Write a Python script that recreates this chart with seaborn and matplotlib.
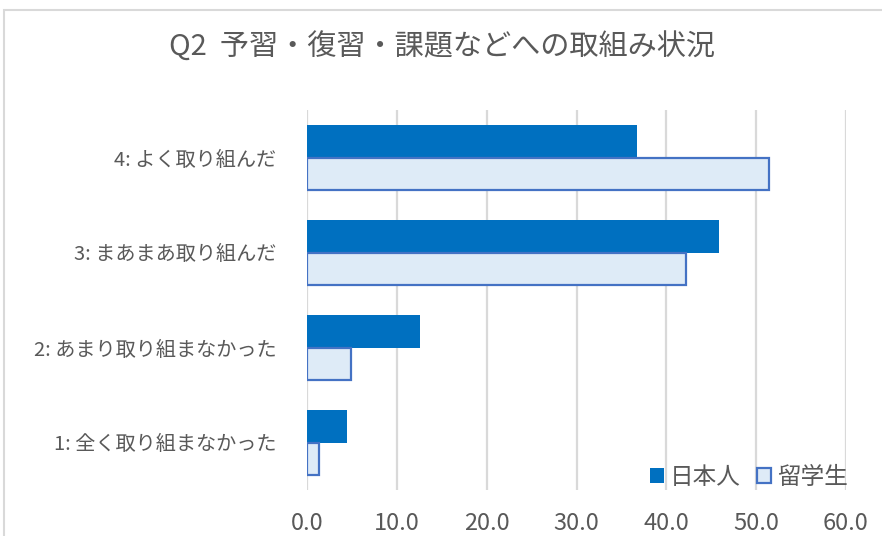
import matplotlib
matplotlib.use("Agg")
import matplotlib.pyplot as plt
from matplotlib.patches import Patch, Rectangle
import seaborn as sns
import pandas as pd

# Survey responses (%), top row first
categories = ["4: よく取り組んだ", "3: まあまあ取り組んだ", "2: あまり取り組まなかった", "1: 全く取り組まなかった"]
series_names = ["日本人", "留学生"]
japanese_values = [36.7, 45.9, 12.6, 4.4]
international_values = [51.4, 42.2, 4.9, 1.3]
x_ticks = [0, 10, 20, 30, 40, 50, 60]
title = "Q2  予習・復習・課題などへの取組み状況"

dark_blue = "#0070C0"
light_fill = "#DEEBF7"
light_edge = "#4472C4"
text_gray = "#595959"
grid_gray = "#D9D9D9"

df = pd.DataFrame({
    "category": categories * 2,
    "group": [series_names[0]] * len(categories) + [series_names[1]] * len(categories),
    "value": japanese_values + international_values,
})

sns.set_theme(style="white")
plt.rcParams["font.family"] = ["Noto Sans CJK JP", "DejaVu Sans"]

fig = plt.figure(figsize=(8.82, 5.36), dpi=100)
ax = fig.add_axes([307 / 882, 1 - 490 / 536, (846 - 307) / 882, (490 - 110) / 536])

sns.barplot(
    data=df, x="value", y="category", hue="group",
    order=categories, hue_order=series_names,
    palette=[dark_blue, light_fill], orient="h",
    width=0.68, dodge=True, ax=ax, legend=False, saturation=1,
)

# Style each series
for bar in ax.containers[0]:
    bar.set_edgecolor("none")
for bar in ax.containers[1]:
    bar.set_facecolor(light_fill)
    bar.set_edgecolor(light_edge)
    bar.set_linewidth(1.6)

ax.set_xlim(0, 60)
ax.set_ylim(3.5, -0.5)
ax.set_xticks(x_ticks)
ax.set_xticklabels([f"{t:.1f}" for t in x_ticks], fontsize=17, color=text_gray)
ax.tick_params(axis="y", labelsize=14.5, labelcolor=text_gray, length=0, pad=22)
ax.tick_params(axis="x", length=0, pad=16)
ax.set_xlabel("")
ax.set_ylabel("")
ax.xaxis.grid(True, color=grid_gray, linewidth=1.6)
ax.set_axisbelow(True)
for spine in ax.spines.values():
    spine.set_visible(False)

handles = [
    Patch(facecolor=dark_blue, edgecolor="none", label=series_names[0]),
    Patch(facecolor=light_fill, edgecolor=light_edge, linewidth=1.6, label=series_names[1]),
]
fig.legend(
    handles=handles, loc="center right", bbox_to_anchor=(848 / 882, 1 - 477 / 536),
    ncol=2, frameon=False, fontsize=17, labelcolor=text_gray,
    handlelength=0.6, handleheight=0.6, handletextpad=0.25, columnspacing=0.7,
    borderpad=0, borderaxespad=0,
)

fig.text(0.501, 1 - 48 / 536, title, ha="center", va="center", fontsize=21, color=text_gray)

# Chart area outline
fig.patches.append(Rectangle((4 / 882, -0.1), 1.2, 1 - 10 / 536 + 0.1, transform=fig.transFigure,
                             fill=False, edgecolor=grid_gray, linewidth=1.5, zorder=0))

fig.savefig("out.png", dpi=100, facecolor="white")
